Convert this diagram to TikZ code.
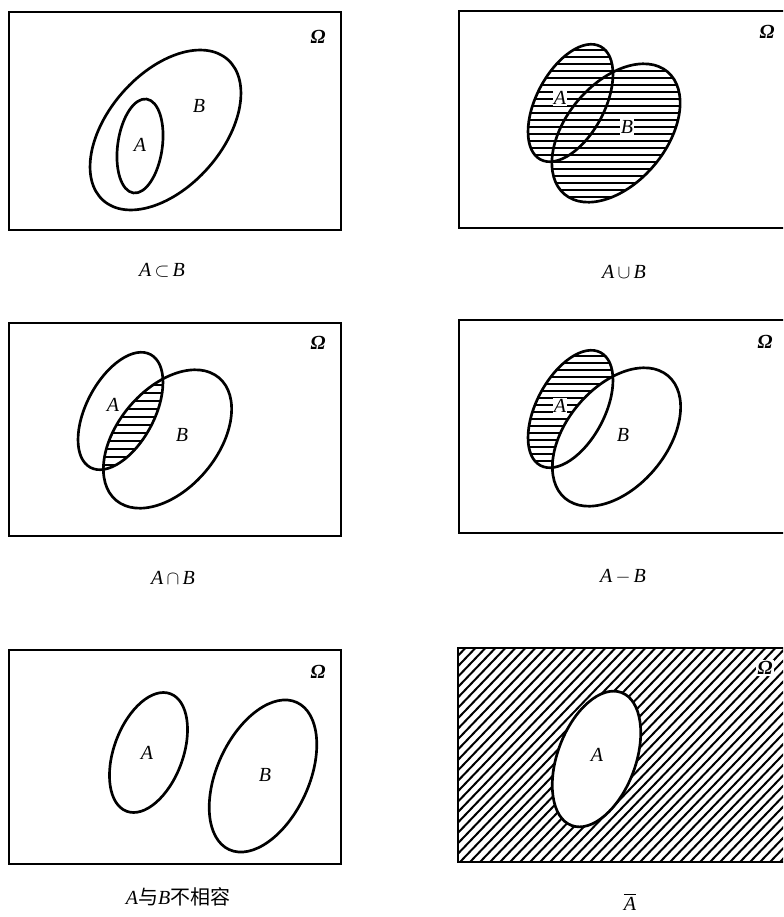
\documentclass[tikz,border=0pt]{standalone}
\usepackage{amsmath}
\usepackage{fontspec}
\setmainfont{Liberation Serif}
\newfontfamily\cjk{Noto Sans CJK SC}
\usetikzlibrary{positioning}

\begin{document}
\begin{tikzpicture}[x=0.75pt, y=-0.75pt,
  frame/.style={line width=1.5pt},
  setline/.style={line width=2pt},
  hatch/.style={line width=1.5pt},
  oval/.style n args={5}{rotate around={#5:(#1,#2)}, insert path={(#1,#2) ellipse [x radius=#3, y radius=#4]}},
  lbl/.style={font=\fontsize{15}{17}\selectfont\itshape, inner sep=0.8pt},
  omg/.style={font=\fontsize{15}{17}\selectfont\bfseries\itshape, inner sep=0.8pt},
  captxt/.style={font=\fontsize{15}{17}\selectfont\itshape, inner sep=0pt}]
  \useasboundingbox (0,0) rectangle (783,917);
  \clip (0,0) rectangle (783,917);

  % A subset B
  \draw[frame] (9,12) rectangle (341,230);
  \draw[setline, oval={165.5}{130}{94}{57}{48.6}];
  \draw[setline, oval={140}{146}{47.4}{22.3}{82}];
  \node[omg] (omegaSub) at (318,37) {Ω};
  \node[lbl] (aSub) at (140,145) {A};
  \node[lbl] (bSub) at (199,106) {B};
  \node[captxt] (capSub) at (162,270) {A$\,{\subset}\,$B};

  % A union B
  \draw[frame] (459,11) rectangle (792,228);
  \begin{scope}
    \clip[oval={570.5}{103}{64}{34}{62}];
    \foreach \y in {36,43,...,220} \draw[hatch] (480,\y) -- (720,\y);
  \end{scope}
  \begin{scope}
    \clip[oval={616}{133}{80}{50}{50}];
    \foreach \y in {36,43,...,220} \draw[hatch] (480,\y) -- (720,\y);
  \end{scope}
  \draw[setline, oval={570.5}{103}{64}{34}{62}];
  \draw[setline, oval={616}{133}{80}{50}{50}];
  \node[omg] (omegaCup) at (767,32) {Ω};
  \node[lbl, fill=white] (aCup) at (560,98) {A};
  \node[lbl, fill=white] (bCup) at (627,127) {B};
  \node[captxt] (capCup) at (624,272) {A$\,{\cup}\,$B};

  % A cap B
  \draw[frame] (9,323) rectangle (341,536);
  \begin{scope}
    \clip[oval={120.5}{411}{64}{34}{62}];
    \clip[oval={167.5}{439}{80}{50}{50}];
    \foreach \y in {345,353,...,520} \draw[hatch] (40,\y) -- (280,\y);
  \end{scope}
  \draw[setline, oval={120.5}{411}{64}{34}{62}];
  \draw[setline, oval={167.5}{439}{80}{50}{50}];
  \node[omg] (omegaCap) at (318,343) {Ω};
  \node[lbl] (aCap) at (113,405) {A};
  \node[lbl] (bCap) at (182,435) {B};
  \node[captxt] (capCap) at (173,578) {A$\,{\cap}\,$B};

  % A minus B
  \draw[frame] (459,320) rectangle (792,533);
  \begin{scope}
    \clip[oval={570.5}{409}{64}{34}{62}];
    \foreach \y in {342,349,...,530} \draw[hatch] (480,\y) -- (720,\y);
  \end{scope}
  \fill[white, oval={616.5}{437}{80}{50}{50}];
  \draw[setline, oval={570.5}{409}{64}{34}{62}];
  \draw[setline, oval={616.5}{437}{80}{50}{50}];
  \node[omg] (omegaDiff) at (765,342) {Ω};
  \node[lbl, fill=white] (aDiff) at (560,406) {A};
  \node[lbl] (bDiff) at (623,435) {B};
  \node[captxt] (capDiff) at (623,577) {A$\,{-}\,$B};

  % disjoint
  \draw[frame] (9,650) rectangle (341,864);
  \draw[setline, oval={148.5}{752.5}{62.7}{34.5}{69.6}];
  \draw[setline, oval={263}{776}{81}{46}{65.3}];
  \node[omg] (omegaDis) at (318,672) {Ω};
  \node[lbl] (aDis) at (147,753) {A};
  \node[lbl] (bDis) at (265,775) {B};
  \node[captxt] (capDis) at (178,897) {A{\upshape\cjk 与}B{\upshape\cjk 不相容}};

  % complement
  \begin{scope}
    \clip (458,648) rectangle (792,862);
    \foreach \x in {200,210,...,800} \draw[hatch] (\x,862) -- ++(240,-250);
  \end{scope}
  \fill[white, oval={596.5}{759}{71}{39}{69.4}];
  \draw[frame] (458,648) rectangle (792,862);
  \draw[setline, oval={596.5}{759}{71}{39}{69.4}];
  \node[omg, fill=white] (omegaBar) at (765,668) {Ω};
  \node[lbl] (aBar) at (597,755) {A};
  \node[captxt] (capBar) at (630,902) {$\overline{\mbox{\itshape A}}$};
\end{tikzpicture}
\end{document}
